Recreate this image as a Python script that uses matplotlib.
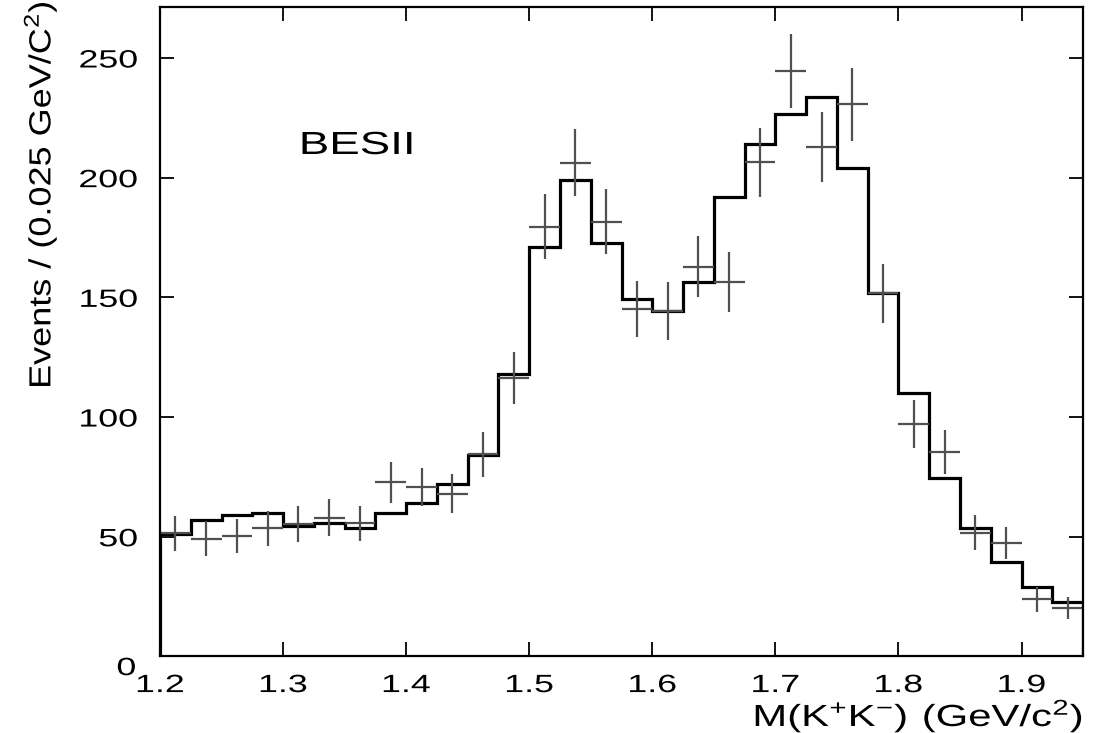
import numpy as np
import matplotlib
matplotlib.use('Agg')
import matplotlib.pyplot as plt
from matplotlib.patheffects import AbstractPathEffect
from matplotlib.transforms import Affine2D

plt.rcParams['font.family'] = ['Liberation Sans', 'DejaVu Sans']
plt.rcParams['mathtext.fontset'] = 'custom'
plt.rcParams['mathtext.rm'] = 'Liberation Sans'

# binning: 30 bins of 25 MeV from 1.2 to 1.95 GeV
bin_edges = np.linspace(1.2, 1.95, 31)
bin_centers = 0.5 * (bin_edges[:-1] + bin_edges[1:])

# fit / MC histogram
fit_counts = [51.0, 56.8, 58.9, 59.8, 54.6, 55.6, 53.5, 60.0, 64.2, 72.2,
              84.3, 117.8, 171.1, 199.0, 172.5, 149.3, 144.3, 156.4, 192.0, 214.0,
              226.6, 233.8, 204.1, 151.7, 110.2, 74.4, 53.5, 39.6, 29.1, 22.9]

# data points with errors
data_counts = [51.4, 49.2, 50.2, 53.5, 55.2, 57.9, 55.6, 72.7, 70.7, 68.0,
               84.4, 116.4, 179.5, 206.2, 181.6, 145.1, 144.3, 162.8, 156.3, 206.4,
               244.7, 212.9, 230.6, 151.7, 97.1, 85.3, 51.7, 47.5, 23.8, 20.1]
data_errs = [7.2, 7.2, 7.0, 7.3, 7.5, 7.7, 7.3, 8.5, 8.0, 8.2,
             9.3, 10.9, 13.6, 14.0, 13.6, 11.8, 12.0, 12.8, 12.5, 14.5,
             15.5, 14.7, 15.2, 12.4, 10.1, 9.2, 7.2, 6.7, 5.2, 4.6]

x_ticks = [1.2, 1.3, 1.4, 1.5, 1.6, 1.7, 1.8, 1.9]
y_ticks = [0, 50, 100, 150, 200, 250]


class Stretch(AbstractPathEffect):
    """Widen glyphs along the text direction (sx) and across it (sy)."""

    def __init__(self, sx=1.0, sy=1.0, anchor='center'):
        super().__init__()
        self.sx, self.sy, self.anchor = sx, sy, anchor

    def draw_path(self, renderer, gc, tpath, affine, rgbFace=None):
        ext = tpath.get_extents()
        x0 = {'left': ext.x0, 'right': ext.x1}.get(self.anchor, 0.5 * (ext.x0 + ext.x1))
        y0 = 0.5 * (ext.y0 + ext.y1)
        t = (Affine2D().translate(-x0, -y0).scale(self.sx, self.sy)
             .translate(x0, y0) + affine)
        renderer.draw_path(gc, tpath, t, rgbFace)


SX = 1.43

fig = plt.figure(figsize=(10.95, 7.33), dpi=100)
ax = fig.add_axes([0.1461, 0.1045, 0.8430, 0.8866])

ax.stairs(fit_counts, bin_edges, baseline=0, color='black', lw=2.3)
ax.errorbar(bin_centers, data_counts, xerr=0.0125, yerr=data_errs, fmt='none',
            ecolor='#505050', elinewidth=1.6, capsize=0)

ax.set_xlim(1.2, 1.95)
ax.set_ylim(0, 271.5)
ax.set_xticks(x_ticks, [str(v) for v in x_ticks])
ax.set_yticks(y_ticks, [''] + [str(v) for v in y_ticks[1:]])
ax.tick_params(direction='in', length=10, width=1.3, top=True, right=True,
               labelsize=18)
ax.tick_params(axis='x', pad=12)
ax.tick_params(axis='y', pad=16)
plt.setp(ax.get_xticklabels(), path_effects=[Stretch(SX)])
plt.setp(ax.get_yticklabels(), path_effects=[Stretch(SX, anchor='right')])
for sp in ax.spines.values():
    sp.set_linewidth(1.6)

# zero label sits just below the corner
ax.text(-0.026, -0.018, '0', transform=ax.transAxes, ha='right', va='center',
        fontsize=18, path_effects=[Stretch(SX, anchor='right')])

ax.text(1.3137, 209.9, 'BESII', fontsize=23, ha='left', va='baseline',
        path_effects=[Stretch(SX, anchor='left')])

fig.text(0.989, 0.0095, r'$\mathrm{M(K^{+}K^{-})\ (GeV/c^{2})}$', ha='right',
         va='baseline', fontsize=22, path_effects=[Stretch(1.37, anchor='right')])
fig.text(0.037, 1 - 195 / 733, r'Events / (0.025 GeV/C$^{2}$)', rotation=90,
         ha='center', va='center', fontsize=22, path_effects=[Stretch(1.18)])

fig.savefig('out.png', dpi=100)
